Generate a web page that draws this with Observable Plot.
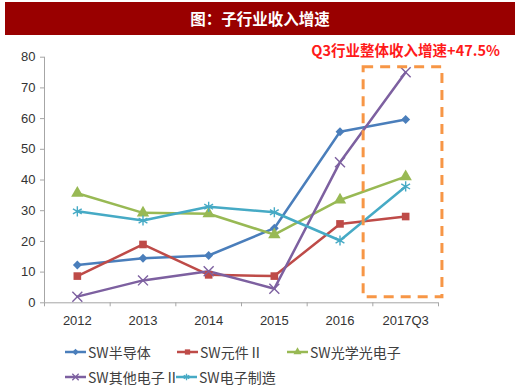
<!DOCTYPE html>
<html><head><meta charset="utf-8">
<script src="https://cdn.jsdelivr.net/npm/d3@7"></script>
<script src="https://cdn.jsdelivr.net/npm/@observablehq/plot@0.6"></script>
<style>
body{margin:0;background:#fff;}
#wrap{position:relative;width:520px;height:387px;overflow:hidden;background:#fff;}
#title{position:absolute;left:5px;top:2px;width:510px;height:33px;background:#990000;color:#fff;
 font-family:"Noto Sans CJK SC",sans-serif;font-size:15.5px;font-weight:bold;text-align:center;line-height:33px;}
#chart{position:absolute;left:0;top:36px;}
.leg{position:absolute;display:flex;align-items:center;font-family:"Noto Sans CJK SC",sans-serif;font-size:14px;color:#404040;white-space:nowrap;}
.leg svg{margin-right:2px;}
</style></head>
<body><div id="wrap"><div id="title"></div><div id="chart"></div></div>
<script>
const titleText = "图：子行业收入增速";
const annotation = "Q3行业整体收入增速+47.5%";
const categories = ["2012","2013","2014","2015","2016","2017Q3"];
const seriesNames = ["SW半导体","SW元件Ⅱ","SW光学光电子","SW其他电子Ⅱ","SW电子制造"];
const semiconductor = [12.3, 14.5, 15.4, 24.3, 55.7, 59.7];
const components = [8.7, 19.0, 9.1, 8.7, 25.7, 28.1];
const optoelectronics = [35.7, 29.3, 29.0, 22.2, 33.5, 41.1];
const otherElectronics = [2.0, 7.3, 10.3, 4.6, 45.8, 75.1];
const electronicMfg = [29.8, 26.8, 31.3, 29.5, 20.3, 37.9];
const yTicks = [0,10,20,30,40,50,60,70,80];
const highlight = [{x1: 4.36, x2: 5.56, y1: 1.8, y2: 76.7}];

const colors = ["#4a7ebb","#be4b48","#98b954","#7d60a0","#46aac5"];
const symbols = ["diamond2","square","triangle","times","asterisk"];
const filled = [true,true,true,false,false];
const sizes = [4.0,4.3,4.6,4.6,4.8];
const allSeries = [semiconductor, components, optoelectronics, otherElectronics, electronicMfg];

document.getElementById("title").textContent = titleText;

const rows = [];
allSeries.forEach((vals, s) => vals.forEach((v, i) => rows.push({series: seriesNames[s], i, v})));

const dotMarks = seriesNames.map((name, s) => Plot.dot(rows.filter(r => r.series === name), {
  x: "i", y: "v", symbol: () => symbols[s], r: sizes[s],
  fill: filled[s] ? colors[s] : "none",
  stroke: filled[s] ? "none" : colors[s], strokeWidth: 1.4
}));

const plot = Plot.plot({
  width: 520, height: 300,
  marginLeft: 44, marginRight: 82, marginTop: 20.7, marginBottom: 33.7,
  style: {fontFamily: "Arial, 'Liberation Sans', sans-serif", background: "transparent", overflow: "visible"},
  x: {type: "linear", domain: [-0.5, 5.5], axis: null},
  y: {domain: [0, 80], axis: null},
  color: {domain: seriesNames, range: colors},
  symbol: {type: "identity"},
  marks: [
    Plot.ruleX([-0.5], {stroke: "#a6a6a6", strokeWidth: 1}),
    Plot.ruleY([0], {stroke: "#a6a6a6", strokeWidth: 1}),
    Plot.axisY({ticks: yTicks, tickSize: 4, tickPadding: 5, fontSize: 13, stroke: "#a6a6a6", fill: "#333"}),
    Plot.axisX({ticks: d3.range(-0.5, 6, 1), tickSize: 4, tickFormat: () => "", stroke: "#a6a6a6"}),
    Plot.axisX({ticks: d3.range(0, 6), tickSize: 0, tickPadding: 13, fontSize: 13, fill: "#333", tickFormat: i => categories[i]}),
    Plot.line(rows, {x: "i", y: "v", z: "series", stroke: "series", strokeWidth: 2.5}),
    ...dotMarks,
    Plot.rect(highlight, {x1: "x1", x2: "x2", y1: "y1", y2: "y2", fill: "none", stroke: "#f79646", strokeWidth: 3, strokeDasharray: "10,7"}),
    Plot.text([annotation], {x: () => 5, y: () => 80, dy: -6, text: d => d, fill: "#ff1a1a", fontSize: 14.5, fontWeight: "bold", fontFamily: "'Noto Sans CJK SC', sans-serif"})
  ]
});
document.getElementById("chart").appendChild(plot);

// legend
const legendPos = [[65, 352], [177, 352], [287, 352], [65, 377], [176, 377]];
const wrap = document.getElementById("wrap");
seriesNames.forEach((name, s) => {
  const div = document.createElement("div");
  div.className = "leg";
  div.style.left = legendPos[s][0] + "px";
  div.style.top = (legendPos[s][1] - 10) + "px";
  div.style.height = "20px";
  const svg = d3.create("svg").attr("width", 21).attr("height", 12);
  svg.append("line").attr("x1", 0).attr("x2", 21).attr("y1", 6).attr("y2", 6).attr("stroke", colors[s]).attr("stroke-width", 2.5);
  const symMap = {diamond2: d3.symbolDiamond2, square: d3.symbolSquare, triangle: d3.symbolTriangle, times: d3.symbolTimes, asterisk: d3.symbolAsterisk};
  svg.append("path").attr("transform", "translate(10.5,6)")
    .attr("d", d3.symbol(symMap[symbols[s]], 28)())
    .attr("fill", filled[s] ? colors[s] : "none").attr("stroke", filled[s] ? "none" : colors[s]).attr("stroke-width", 1.3);
  div.appendChild(svg.node());
  const span = document.createElement("span");
  span.textContent = name;
  div.appendChild(span);
  wrap.appendChild(div);
});
</script></body></html>
